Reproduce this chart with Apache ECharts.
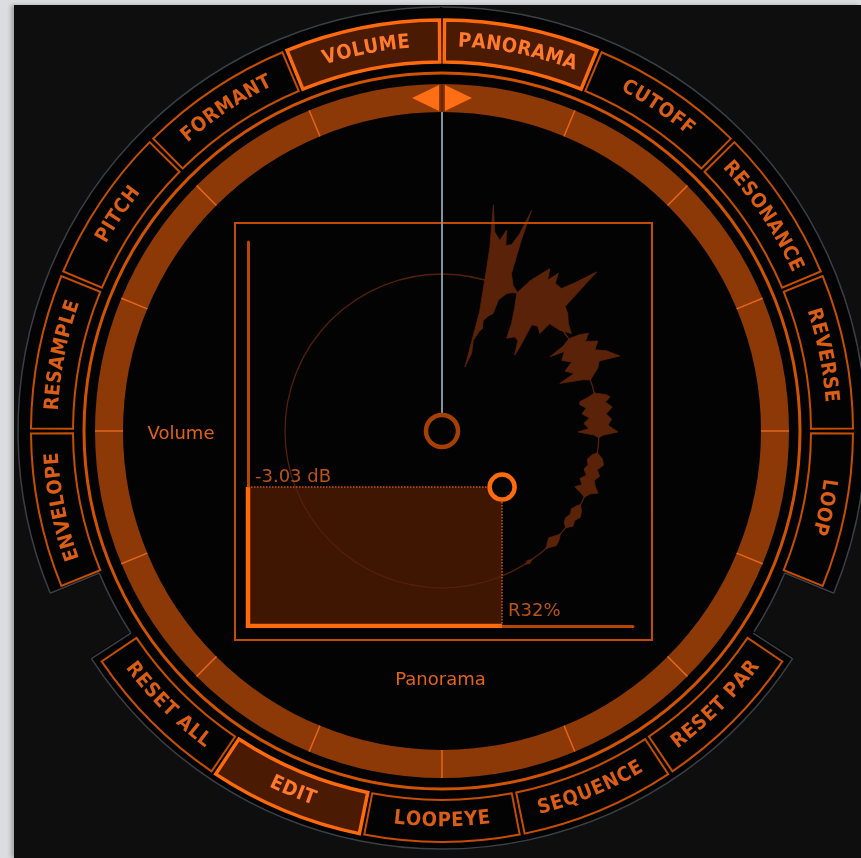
<!DOCTYPE html>
<html><head><meta charset="utf-8">
<script src="https://cdn.jsdelivr.net/npm/echarts@6/dist/echarts.min.js"></script>
<style>
html,body{margin:0;padding:0;background:#dcdde0;width:861px;height:858px;overflow:hidden;}
#chart{position:absolute;left:14px;top:5px;width:847px;height:853px;background:#0e0e0e;box-shadow:-3px 0 4px rgba(0,0,0,0.25);}
</style></head><body><div id="chart"></div>
<script>
// ---------------- data ----------------
const buttonLabels = ['ENVELOPE','RESAMPLE','PITCH','FORMANT','VOLUME','PANORAMA','CUTOFF','RESONANCE','REVERSE','LOOP','RESET PAR','SEQUENCE','LOOPEYE','EDIT','RESET ALL'];
const buttonStart  = [247.5,270,292.5,315,337.5,0,22.5,45,67.5,90,123.75,146.25,168.75,191.25,213.75];
const buttonEnd    = [270,292.5,315,337.5,360,22.5,45,67.5,90,112.5,146.25,168.75,191.25,213.75,236.25];
const buttonActive = [0,0,0,0,1,1,0,0,0,0,0,0,0,1,0];
const buttonGroup  = ['top','top','top','top','top','top','top','top','top','top','bottom','bottom','bottom','bottom','bottom'];

const housingArcFrom = [247.5, 0, 112.5, 123, 237];
const housingArcTo   = [360, 112.5, 123, 237, 247.5];
const housingArcR    = [424, 424, 371, 418, 371];
const housingEdgeAngle = [112.5, 123, 237, 247.5];
const housingEdgeInner = [371, 371, 371, 371];
const housingEdgeOuter = [424, 418, 418, 424];

const bandTicks = [0,22.5,45,67.5,90,112.5,135,157.5,180,202.5,225,247.5,270,292.5,315,337.5];
const pointerAngle = 0;

// waveform chunks: [angle(deg, clockwise from top), radius]
const waveChunks = [
  [[19.7,68],[17.5,125],[15.5,165],[14.6,190],[12.8,232],[14.8,206],[16.9,199],[17.8,211],[19.0,196],[20.5,199],[21.5,212],[22.1,238],[22.6,205],[23.8,172],[26.0,162],[28.4,158],
   [25.2,152],[23.3,143],[23.5,128],[22.0,124],[20.4,118],[21.5,110],[20.6,107],[19.0,96],[20.9,83],[19.7,68]],
  [[28.5,157],[30.5,175],[33.6,195],[35.0,184],[36.4,196],[37.5,186],[40.0,186],[42.0,200],[44.2,222],[44.7,175],[47.0,172],[49.5,166],[53.0,162],
   [49.4,155],[45.1,152],[45.1,138],[42.5,142],[40.2,139],[42.8,115],[43.8,105],[40.0,118],[37.7,119],[34.9,113],[32.9,128],[30.4,144],[28.5,157]],
  [[54,157],[55,168],[56.3,176],[58,169],[60,180],[62,173],[64,183],[67.1,193],[66,172],[68,168],[71,157],
   [70,150],[68,127],[66.5,144],[64,137],[62,147],[59.5,139],[57,146],[55.5,131],[55,148],[54,157]],
  [[76,157],[77.5,168],[78.5,171.5],[80,166],[82,172],[84,165],[86,170],[88,166],[90.3,176],[91.5,161],[92.5,157],
   [91.5,152],[90.4,136],[89,147],[87,142],[85,148],[83,141],[81,146],[79,140],[78,141],[77,150],[76,157]],
  [[98,157],[100,163],[102,165],[104,160],[106,164],[108,160],[110,163],[111.7,168],[113,161],[115,157],
   [114,152],[112.8,144],[111,150],[109,146],[107,151],[105,147],[103,150],[101,148],[99,152],[98,157]],
  [[118,157],[120,161],[122,163],[124,160],[126,162],[128,157],[127,153],[125,151],[123,153],[121,151],[119,154],[118,157]],
  [[131,157],[133,160],[135,162],[137,159],[138.5,157],[137,154],[135,151],[133,154],[131,157]],
  [[145,157],[146.5,159],[148,157],[146.5,155],[145,157]]
];

const volumeDb = -3.03;
const panPercent = 32;          // R32%
const panAxis = [-100, 100];    // L100 .. R100
const volumeAxisMax = 1.95;     // linear gain at top of the pad

// ---------------- constants (style) ----------------
const OX = 14, OY = 5;
const FONT = '"DejaVu Sans", sans-serif';
const BTN_FONT = 'bold 20px "DejaVu Sans Condensed", "DejaVu Sans", sans-serif';
const BTN_R0 = 369, BTN_R1 = 411, BTN_RT = 390;
const BAND_R0 = 319, BAND_R1 = 347;
const RING_R = 358, WAVE_R = 157, HUB_R = 16;

const measureCtx = document.createElement('canvas').getContext('2d');
measureCtx.font = BTN_FONT;

function geom(api) {
  const c = api.coord([0, 0]);
  const pt = (r, a) => api.coord([r, a]);
  const rad = r => { const p = api.coord([r, 0]); return Math.hypot(p[0] - c[0], p[1] - c[1]); };
  const ang = a => { const p = api.coord([100, a]); return Math.atan2(p[1] - c[1], p[0] - c[0]); };
  const span = (a0, a1) => { let s = ang(a0), e = ang(a1); while (e <= s + 1e-9) e += Math.PI * 2; return [s, e]; };
  return { cx: c[0], cy: c[1], pt, rad, ang, span };
}
function polarSeries(name, data, z, fn) {
  return { type: 'custom', name, coordinateSystem: 'polar', polarIndex: 0, data, z, silent: true, animation: false,
    renderItem: (params, api) => fn(params, api, geom(api)) };
}

const gain = Math.pow(10, volumeDb / 20);
const chart = echarts.init(document.getElementById('chart'));

const series = [
  polarSeries('housing', housingArcR.map((r, i) => [r, housingArcFrom[i], housingArcTo[i]]), 0, (p, api, g) => {
    const r = g.rad(api.value(0));
    const [s, e] = g.span(api.value(1), api.value(2));
    return { type: 'group', children: [
      { type: 'sector', shape: { cx: g.cx, cy: g.cy, r0: 0, r: r, startAngle: s - 0.004, endAngle: e + 0.004, clockwise: true }, style: { fill: '#030303' } },
      { type: 'arc', shape: { cx: g.cx, cy: g.cy, r: r, startAngle: s, endAngle: e, clockwise: true }, style: { stroke: '#3b3f46', lineWidth: 1.5, fill: null } }
    ] };
  }),
  polarSeries('housingEdges', housingEdgeAngle.map((a, i) => [housingEdgeOuter[i], a, housingEdgeInner[i]]), 1, (p, api, g) => {
    const a = api.value(1);
    const p1 = g.pt(api.value(2), a), p2 = g.pt(api.value(0), a);
    return { type: 'line', shape: { x1: p1[0], y1: p1[1], x2: p2[0], y2: p2[1] }, style: { stroke: '#3b3f46', lineWidth: 1.5 } };
  }),
  polarSeries('ring', [[RING_R, 0, 360]], 2, (p, api, g) => {
    const [s, e] = g.span(api.value(1), api.value(2));
    return { type: 'arc', shape: { cx: g.cx, cy: g.cy, r: g.rad(api.value(0)), startAngle: s, endAngle: e, clockwise: true }, style: { stroke: '#cf5300', lineWidth: 3, fill: null } };
  }),
  polarSeries('band', bandTicks.map(a => [BAND_R1, a]), 2, (p, api, g) => {
    const a = api.value(1);
    const [s, e] = g.span(a, a + 22.5);
    const q1 = g.pt(BAND_R0, a), q2 = g.pt(BAND_R1, a);
    return { type: 'group', children: [
      { type: 'sector', shape: { cx: g.cx, cy: g.cy, r0: g.rad(BAND_R0), r: g.rad(api.value(0)), startAngle: s - 0.003, endAngle: e + 0.003, clockwise: true }, style: { fill: '#8c3807' } },
      { type: 'line', shape: { x1: q1[0], y1: q1[1], x2: q2[0], y2: q2[1] }, style: { stroke: '#e2661c', lineWidth: 1.5 }, z2: 5 }
    ] };
  }),
  polarSeries('buttons', buttonLabels.map((l, i) => [BTN_RT, (buttonStart[i] + buttonEnd[i]) / 2]), 2, (params, api, g) => {
    const i = params.dataIndex;
    const on = buttonActive[i] === 1;
    const [s, e] = g.span(buttonStart[i] + 0.35, buttonEnd[i] - 0.35);
    const children = [{ type: 'sector', shape: { cx: g.cx, cy: g.cy, r0: g.rad(BTN_R0), r: g.rad(BTN_R1), startAngle: s, endAngle: e, clockwise: true },
      style: { fill: on ? '#4a1a03' : '#030303', stroke: on ? '#ff6a0c' : '#c54e02', lineWidth: on ? 3.5 : 2 } }];
    const label = buttonLabels[i];
    const top = buttonGroup[i] === 'top';
    const dir = top ? 1 : -1;
    const Rt = api.value(0), rpx = g.rad(Rt), mid = api.value(1);
    const chars = [...label];
    const ws = chars.map(ch => measureCtx.measureText(ch).width);
    const sp = 0.6;
    const total = ws.reduce((a, b) => a + b, 0) + sp * (ws.length - 1);
    let cum = -total / 2;
    chars.forEach((ch, k) => {
      const off = cum + ws[k] / 2; cum += ws[k] + sp;
      const th = mid + dir * off / rpx * 180 / Math.PI;
      const q = g.pt(Rt, th), phi = g.ang(th);
      const rot = top ? -(phi + Math.PI / 2) : -(phi - Math.PI / 2);
      children.push({ type: 'text', x: q[0], y: q[1], rotation: rot, z2: 10,
        style: { text: ch, font: BTN_FONT, fill: on ? '#ff7a2c' : '#dc5e16', align: 'center', verticalAlign: 'middle' } });
    });
    return { type: 'group', children };
  }),
  polarSeries('circle', [[WAVE_R, 0, 360]], 3, (p, api, g) => {
    const [s, e] = g.span(api.value(1), api.value(2));
    return { type: 'arc', shape: { cx: g.cx, cy: g.cy, r: g.rad(api.value(0)), startAngle: s, endAngle: e, clockwise: true }, style: { stroke: '#54200a', lineWidth: 1.3, fill: null } };
  }),
  polarSeries('waveform', waveChunks.map(ch => [WAVE_R, ch[0][0]]), 3, (p, api, g) => {
    const pts = waveChunks[p.dataIndex].map(([a, r]) => g.pt(r, a));
    return { type: 'polygon', shape: { points: pts }, style: { fill: '#5a2208', stroke: '#5a2208', lineWidth: 0.8 } };
  }),
  polarSeries('pointer', [[BAND_R0, pointerAngle]], 6, (p, api, g) => {
    const a = api.value(1);
    const p1 = g.pt(HUB_R + 2, a), p2 = g.pt(api.value(0), a);
    const phi = g.ang(a);
    const n = [Math.cos(phi), Math.sin(phi)], t = [Math.cos(phi + Math.PI / 2), Math.sin(phi + Math.PI / 2)];
    const c = g.pt((BAND_R0 + BAND_R1) / 2, a);
    const P = (u, v) => [c[0] + t[0] * u + n[0] * v, c[1] + t[1] * u + n[1] * v];
    const d1 = g.pt(BAND_R0, a), d2 = g.pt(BAND_R1, a);
    return { type: 'group', children: [
      { type: 'line', shape: { x1: p1[0], y1: p1[1], x2: p2[0], y2: p2[1] }, style: { stroke: '#8593a0', lineWidth: 2 } },
      { type: 'line', shape: { x1: d1[0], y1: d1[1], x2: d2[0], y2: d2[1] }, style: { stroke: '#6e2600', lineWidth: 3 } },
      { type: 'polygon', shape: { points: [P(-30, 0), P(-3, 13), P(-3, -13)] }, style: { fill: '#ff6d14' } },
      { type: 'polygon', shape: { points: [P(30, 0), P(3, 13), P(3, -13)] }, style: { fill: '#ff6d14' } }
    ] };
  }),
  polarSeries('hub', [[HUB_R, 0, 360]], 6, (p, api, g) => {
    const [s, e] = g.span(api.value(1), api.value(2));
    return { type: 'arc', shape: { cx: g.cx, cy: g.cy, r: g.rad(api.value(0)), startAngle: s, endAngle: e, clockwise: true }, style: { stroke: '#a63f02', lineWidth: 4.5, fill: null } };
  }),
  { type: 'line', name: 'fill', xAxisIndex: 0, yAxisIndex: 0, data: [], z: 2, silent: true, animation: false,
    markArea: { silent: true, itemStyle: { color: '#3e1602' }, data: [[{ coord: [panAxis[0], 0] }, { coord: [panPercent, gain] }]] } },
  { type: 'line', name: 'level', xAxisIndex: 0, yAxisIndex: 0, z: 4, silent: true, animation: false, symbol: 'none',
    data: [[panAxis[0], gain], [panAxis[0], 0], [panPercent, 0]],
    lineStyle: { color: '#ff6a0c', width: 4.5, join: 'miter', cap: 'butt' } },
  { type: 'scatter', name: 'handle', xAxisIndex: 0, yAxisIndex: 0, z: 5, silent: true, animation: false,
    data: [[panPercent, gain]], symbol: 'circle', symbolSize: 25,
    itemStyle: { color: '#050505', borderColor: '#ff6a0c', borderWidth: 4.5, opacity: 1 },
    markLine: { silent: true, symbol: ['none', 'none'], label: { show: false }, animation: false,
      lineStyle: { type: 'dotted', color: '#c85410', width: 1.5 },
      data: [[{ coord: [panAxis[0], gain] }, { coord: [panPercent, gain] }], [{ coord: [panPercent, gain] }, { coord: [panPercent, 0] }]] } },
  { type: 'scatter', name: 'labels', xAxisIndex: 0, yAxisIndex: 0, z: 5, silent: true, animation: false, symbolSize: 0,
    label: { show: true, position: 'right', distance: 5, color: '#e8661e', fontSize: 18, fontFamily: FONT },
    data: [
      { value: [panAxis[0], gain], label: { formatter: volumeDb.toFixed(2) + ' dB', offset: [2, -10] } },
      { value: [panPercent, 0], label: { formatter: 'R' + panPercent + '%', offset: [1, -15] } }
    ] }
];

const axisHidden = { axisTick: { show: false }, axisLabel: { show: false }, splitLine: { show: false } };
const option = {
  backgroundColor: 'transparent',
  animation: false,
  polar: { center: [442 - OX, 431 - OY], radius: 424 },
  angleAxis: { type: 'value', min: 0, max: 360, startAngle: 90, clockwise: true, show: false },
  radiusAxis: { type: 'value', min: 0, max: 424, show: false },
  grid: [
    { left: 248 - OX, top: 242 - OY, width: 385, height: 384, show: false, outerBoundsMode: 'none' },
    { left: 235 - OX, top: 223 - OY, width: 417, height: 417, show: true, borderColor: '#c24a02', borderWidth: 2, backgroundColor: 'transparent', z: 4, outerBoundsMode: 'none' }
  ],
  xAxis: [
    Object.assign({ type: 'value', gridIndex: 0, min: panAxis[0], max: panAxis[1],
      axisLine: { show: true, onZero: false, lineStyle: { color: '#b54500', width: 3 } },
      name: 'Panorama', nameLocation: 'middle', nameGap: 54, nameMoveOverlap: false,
      nameTextStyle: { color: '#e2621a', fontSize: 18, fontFamily: FONT, verticalAlign: 'middle', align: 'center' } }, axisHidden),
    Object.assign({ type: 'value', gridIndex: 1, show: false }, axisHidden)
  ],
  yAxis: [
    Object.assign({ type: 'value', gridIndex: 0, min: 0, max: volumeAxisMax,
      axisLine: { show: true, onZero: false, lineStyle: { color: '#b54500', width: 3 } },
      name: 'Volume', nameLocation: 'middle', nameGap: 67, nameRotate: 0, nameMoveOverlap: false,
      nameTextStyle: { color: '#e2621a', fontSize: 18, fontFamily: FONT, verticalAlign: 'middle', align: 'center' } }, axisHidden),
    Object.assign({ type: 'value', gridIndex: 1, show: false }, axisHidden)
  ],
  series
};
chart.setOption(option);
</script>
</body></html>
